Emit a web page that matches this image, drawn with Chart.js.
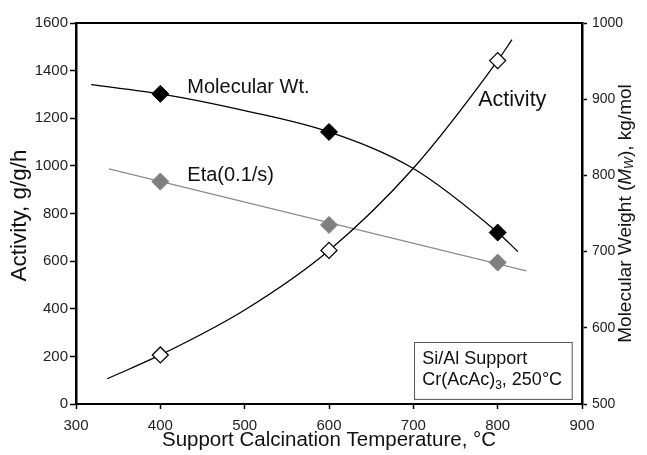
<!DOCTYPE html>
<html>
<head>
<meta charset="utf-8">
<style>
  html, body { margin: 0; padding: 0; background: #fff; }
  #wrap { width: 647px; height: 455px; position: relative; }
</style>
<script src="https://cdn.jsdelivr.net/npm/chart.js@4.4.0/dist/chart.umd.min.js"></script>
</head>
<body>
<div id="wrap"><canvas id="chart"></canvas></div>
<script>
  const FONT = '"Liberation Sans", Arial, Helvetica, sans-serif'

  // measured points (diamonds)
  const temps = [400, 600, 800]
  const activity = [206, 645, 1442]
  const molWt = [907, 857, 725]
  const eta = [934, 752, 594]

  // fitted curves
  const activityCurveX = [337, 400, 500, 600, 700, 800, 817]
  const activityCurveY = [106, 206, 395, 645, 990, 1442, 1530]
  const molCurveX = [318, 400, 500, 600, 700, 800, 824]
  const molCurveY = [919, 907, 885, 857, 809, 725, 700]
  const etaLineX = [339, 834]
  const etaLineY = [987, 559]

  const xRange = [300, 900, 100]
  const yLeftRange = [0, 1600, 200]
  const yRightRange = [500, 1000, 100]

  const pts = (xs, ys) => xs.map((x, i) => ({ x, y: ys[i] }))

  // draws runs of [text, font, dy] rotated -90deg, centred on (cx, cy)
  function vText(ctx, cx, cy, segs) {
    ctx.save()
    let total = 0
    segs.forEach(s => { ctx.font = s[1] + ' ' + FONT; total += ctx.measureText(s[0]).width })
    ctx.translate(cx, cy)
    ctx.rotate(-Math.PI / 2)
    ctx.textBaseline = 'middle'
    ctx.textAlign = 'left'
    let px = -total / 2
    segs.forEach(s => {
      ctx.font = s[1] + ' ' + FONT
      ctx.fillText(s[0], px, s[2])
      px += ctx.measureText(s[0]).width
    })
    ctx.restore()
  }

  const labels = {
    id: 'labels',
    afterDraw(chart) {
      const { ctx, chartArea, scales: { x, y } } = chart
      ctx.save()
      ctx.fillStyle = '#111'
      ctx.textBaseline = 'alphabetic'
      ctx.textAlign = 'left'
      ctx.font = '20px ' + FONT
      ctx.fillText('Molecular Wt.', x.getPixelForValue(432), y.getPixelForValue(1307))
      ctx.fillText('Eta(0.1/s)', x.getPixelForValue(432), y.getPixelForValue(937))
      ctx.font = '21.5px ' + FONT
      ctx.fillText('Activity', x.getPixelForValue(777), y.getPixelForValue(1250))

      // note box
      const bx0 = x.getPixelForValue(701), bx1 = x.getPixelForValue(888)
      const by0 = y.getPixelForValue(260), by1 = y.getPixelForValue(21)
      ctx.strokeStyle = '#555'
      ctx.lineWidth = 1
      ctx.strokeRect(Math.round(bx0) + 0.5, Math.round(by0) + 0.5, bx1 - bx0, by1 - by0)
      ctx.font = '18px ' + FONT
      const tx = bx0 + 8
      ctx.fillText('Si/Al Support', tx, by0 + 22)
      let cx = tx
      const l2 = by0 + 43
      ctx.fillText('Cr(AcAc)', cx, l2); cx += ctx.measureText('Cr(AcAc)').width
      ctx.font = '12px ' + FONT
      ctx.fillText('3', cx, l2 + 4); cx += ctx.measureText('3').width
      ctx.font = '18px ' + FONT
      ctx.fillText(', 250°C', cx, l2)

      const midY = (chartArea.top + chartArea.bottom) / 2
      // left axis title
      vText(ctx, 20, midY + 2, [['Activity, g/g/h', 'normal 22.5px', 0]])
      // right axis title
      vText(ctx, chart.scales.y2.right - 21, midY, [
        ['Molecular Weight (', 'normal 19px', 0],
        ['M', 'italic 19px', 0],
        ['W', 'italic 12.5px', 4],
        ['), kg/mol', 'normal 19px', 0]
      ])
      ctx.restore()
    }
  }

  const tickFont = { family: FONT, size: 15 }
  const plain = v => String(v)

  new Chart(document.getElementById('chart'), {
    type: 'scatter',
    data: {
      datasets: [
        {
          label: 'Molecular Wt.', data: pts(temps, molWt), yAxisID: 'y2',
          pointStyle: 'rectRot', pointRadius: 8.5, backgroundColor: '#000', borderColor: '#000', borderWidth: 1
        },
        {
          label: 'Eta(0.1/s)', data: pts(temps, eta), yAxisID: 'y',
          pointStyle: 'rectRot', pointRadius: 8.5, backgroundColor: '#808080', borderColor: '#808080', borderWidth: 1
        },
        {
          label: 'Activity', data: pts(temps, activity), yAxisID: 'y',
          pointStyle: 'rectRot', pointRadius: 8, backgroundColor: '#fff', borderColor: '#000', borderWidth: 1.3
        },
        {
          label: 'mw curve', data: pts(molCurveX, molCurveY), yAxisID: 'y2', showLine: true,
          pointRadius: 0, borderColor: '#000', borderWidth: 1.3, cubicInterpolationMode: 'monotone'
        },
        {
          label: 'activity curve', data: pts(activityCurveX, activityCurveY), yAxisID: 'y', showLine: true,
          pointRadius: 0, borderColor: '#000', borderWidth: 1.3, cubicInterpolationMode: 'monotone'
        },
        {
          label: 'eta line', data: pts(etaLineX, etaLineY), yAxisID: 'y', showLine: true,
          pointRadius: 0, borderColor: '#8c8c8c', borderWidth: 1.3
        }
      ]
    },
    options: {
      responsive: true,
      maintainAspectRatio: false,
      animation: false,
      layout: { padding: { top: 23, left: 0, right: 0, bottom: 0 } },
      plugins: { legend: { display: false }, tooltip: { enabled: false } },
      scales: {
        x: {
          type: 'linear', position: 'bottom',
          min: xRange[0], max: xRange[1],
          afterFit: s => { s.height = 51 },
          ticks: { stepSize: xRange[2], color: '#222', font: tickFont, padding: 8, maxRotation: 0, callback: plain },
          grid: { drawOnChartArea: false, tickLength: 5, color: '#000', tickWidth: 1.5 },
          border: { color: '#000', width: 2 },
          title: { display: true, text: 'Support Calcination Temperature, °C', color: '#111',
            font: { family: FONT, size: 20.5 }, padding: { top: 0, bottom: 2 } }
        },
        xTop: {
          type: 'linear', position: 'top',
          min: xRange[0], max: xRange[1],
          afterFit: s => { s.height = 0 },
          ticks: { display: false },
          grid: { display: false },
          border: { color: '#000', width: 2 }
        },
        y: {
          position: 'left',
          min: yLeftRange[0], max: yLeftRange[1],
          afterFit: s => { s.width = 76 },
          ticks: { stepSize: yLeftRange[2], color: '#222', font: tickFont, padding: 2, callback: plain },
          grid: { drawOnChartArea: false, tickLength: 6, color: '#000', tickWidth: 1.5 },
          border: { color: '#000', width: 2.5 }
        },
        y2: {
          position: 'right',
          min: yRightRange[0], max: yRightRange[1],
          afterFit: s => { s.width = 65 },
          ticks: { stepSize: yRightRange[2], color: '#222', font: { family: FONT, size: 14 }, padding: 5, callback: plain },
          grid: { drawOnChartArea: false, tickLength: 5, color: '#000', tickWidth: 1.5 },
          border: { color: '#000', width: 2.5 }
        }
      }
    },
    plugins: [labels]
  })
</script>
</body>
</html>
